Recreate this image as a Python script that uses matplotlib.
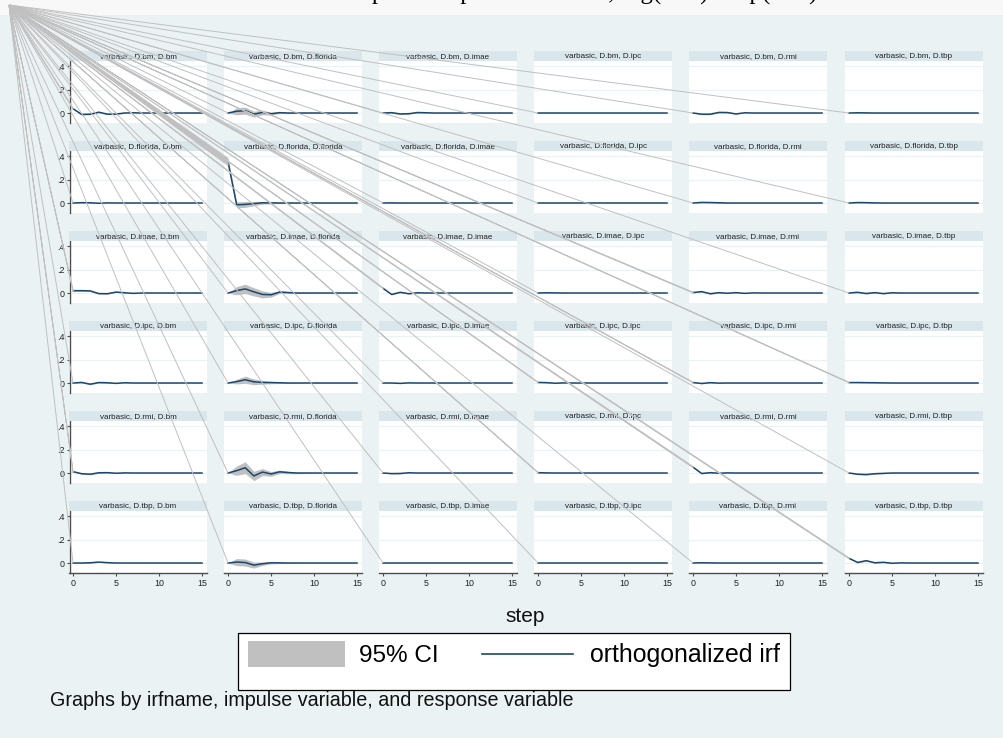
import numpy as np
import matplotlib
matplotlib.use("Agg")
import matplotlib.pyplot as plt
from matplotlib.patches import Rectangle, Polygon

W, H = 1004, 738
DPI = 100

variables = ["bm", "florida", "imae", "ipc", "rmi", "tbp"]
steps = np.arange(16)

# orthogonalized irf, one row per impulse, one list per response (steps 0..15)
irf_bm = [
    [0.037, -0.012, -0.010, 0.007, -0.010, -0.009, 0.000, 0.002, 0, 0, 0, 0, 0, 0, 0, 0],
    [0, 0.015, 0.020, -0.010, 0.005, -0.006, 0.003, 0, 0, 0, 0, 0, 0, 0, 0, 0],
    [0, 0.003, -0.008, -0.006, 0.004, 0.002, 0, 0, 0, 0, 0, 0, 0, 0, 0, 0],
    [0, 0, 0, 0, 0, 0, 0, 0, 0, 0, 0, 0, 0, 0, 0, 0],
    [0, -0.010, -0.010, 0.005, 0.004, -0.008, 0.002, 0, 0, 0, 0, 0, 0, 0, 0, 0],
    [0, 0.002, 0.001, 0, 0, 0, 0, 0, 0, 0, 0, 0, 0, 0, 0, 0],
]
irf_florida = [
    [0, 0.003, 0.002, -0.002, 0.001, 0, 0, 0, 0, 0, 0, 0, 0, 0, 0, 0],
    [0.35, -0.015, -0.012, -0.005, 0.002, 0.001, 0, 0, 0, 0, 0, 0, 0, 0, 0, 0],
    [0, 0.001, 0, 0, 0, 0, 0, 0, 0, 0, 0, 0, 0, 0, 0, 0],
    [0, 0, 0, 0, 0, 0, 0, 0, 0, 0, 0, 0, 0, 0, 0, 0],
    [0, 0.005, 0.004, 0.002, 0, 0, 0, 0, 0, 0, 0, 0, 0, 0, 0, 0],
    [0, 0.004, 0.003, 0.001, 0, 0, 0, 0, 0, 0, 0, 0, 0, 0, 0, 0],
]
irf_imae = [
    [0.020, 0.020, 0.018, -0.005, -0.006, 0.008, 0.002, -0.003, 0, 0, 0, 0, 0, 0, 0, 0],
    [0, 0.020, 0.035, 0.010, -0.012, -0.015, 0.008, 0.004, 0, 0, 0, 0, 0, 0, 0, 0],
    [0.040, -0.012, 0.006, -0.006, 0.002, 0, 0, 0, 0, 0, 0, 0, 0, 0, 0, 0],
    [0, 0.002, 0.001, 0, 0, 0, 0, 0, 0, 0, 0, 0, 0, 0, 0, 0],
    [0.004, 0.012, -0.006, 0.003, -0.002, 0.003, -0.003, 0.001, 0, 0, 0, 0, 0, 0, 0, 0],
    [0, 0.006, -0.004, 0.003, -0.005, 0.002, 0, 0, 0, 0, 0, 0, 0, 0, 0, 0],
]
irf_ipc = [
    [0, 0.005, -0.010, 0.004, 0.002, -0.003, 0.002, 0, 0, 0, 0, 0, 0, 0, 0, 0],
    [0, 0.012, 0.028, 0.010, 0.005, 0.004, 0.002, 0, 0, 0, 0, 0, 0, 0, 0, 0],
    [0, 0, -0.003, 0.001, 0, 0, 0, 0, 0, 0, 0, 0, 0, 0, 0, 0],
    [0.005, 0.003, -0.002, 0.001, 0, 0, 0, 0, 0, 0, 0, 0, 0, 0, 0, 0],
    [0.004, -0.004, 0.003, -0.001, 0, 0, 0, 0, 0, 0, 0, 0, 0, 0, 0, 0],
    [0.004, 0.004, 0.003, 0.002, 0.001, 0, 0, 0, 0, 0, 0, 0, 0, 0, 0, 0],
]
irf_rmi = [
    [0.012, -0.006, -0.010, 0.002, 0.003, -0.002, 0.001, 0, 0, 0, 0, 0, 0, 0, 0, 0],
    [0, 0.020, 0.045, -0.025, 0.008, -0.008, 0.010, 0.004, 0, 0, 0, 0, 0, 0, 0, 0],
    [0, -0.005, -0.004, 0.002, 0, 0, 0, 0, 0, 0, 0, 0, 0, 0, 0, 0],
    [0.003, 0.001, 0, 0, 0, 0, 0, 0, 0, 0, 0, 0, 0, 0, 0, 0],
    [0.050, -0.004, 0.003, -0.002, 0.001, 0, 0, 0, 0, 0, 0, 0, 0, 0, 0, 0],
    [0, -0.010, -0.013, -0.006, -0.003, 0, 0, 0, 0, 0, 0, 0, 0, 0, 0, 0],
]
irf_tbp = [
    [0, 0, 0.002, 0.008, 0.003, 0, 0, 0, 0, 0, 0, 0, 0, 0, 0, 0],
    [0, 0.008, 0.004, -0.018, -0.006, 0.002, 0.001, 0, 0, 0, 0, 0, 0, 0, 0, 0],
    [0, 0, 0, 0, 0, 0, 0, 0, 0, 0, 0, 0, 0, 0, 0, 0],
    [0, 0, 0, 0, 0, 0, 0, 0, 0, 0, 0, 0, 0, 0, 0, 0],
    [0, 0.002, 0.001, 0, 0, 0, 0, 0, 0, 0, 0, 0, 0, 0, 0, 0],
    [0.040, 0.005, 0.020, 0.002, 0.006, -0.002, 0.001, 0, 0, 0, 0, 0, 0, 0, 0, 0],
]

# half-width of the 95% confidence band, same layout
ci_bm = [
    [0.005, 0.006, 0.006, 0.005, 0.004, 0.003, 0.002, 0.001, 0.001, 0, 0, 0, 0, 0, 0, 0],
    [0, 0.030, 0.030, 0.025, 0.020, 0.012, 0.008, 0.005, 0.003, 0.002, 0.001, 0, 0, 0, 0, 0],
    [0, 0.005, 0.005, 0.004, 0.003, 0.002, 0.001, 0, 0, 0, 0, 0, 0, 0, 0, 0],
    [0, 0.002, 0.002, 0.001, 0.001, 0, 0, 0, 0, 0, 0, 0, 0, 0, 0, 0],
    [0, 0.005, 0.005, 0.004, 0.003, 0.002, 0.001, 0, 0, 0, 0, 0, 0, 0, 0, 0],
    [0, 0.002, 0.002, 0.001, 0.001, 0, 0, 0, 0, 0, 0, 0, 0, 0, 0, 0],
]
ci_florida = [
    [0, 0.003, 0.003, 0.002, 0.001, 0, 0, 0, 0, 0, 0, 0, 0, 0, 0, 0],
    [0.030, 0.025, 0.025, 0.018, 0.012, 0.008, 0.005, 0.003, 0.002, 0.001, 0, 0, 0, 0, 0, 0],
    [0, 0.002, 0.002, 0.001, 0, 0, 0, 0, 0, 0, 0, 0, 0, 0, 0, 0],
    [0, 0.001, 0.001, 0, 0, 0, 0, 0, 0, 0, 0, 0, 0, 0, 0, 0],
    [0, 0.004, 0.004, 0.003, 0.002, 0.001, 0, 0, 0, 0, 0, 0, 0, 0, 0, 0],
    [0, 0.004, 0.003, 0.002, 0.001, 0, 0, 0, 0, 0, 0, 0, 0, 0, 0, 0],
]
ci_imae = [
    [0.006, 0.006, 0.006, 0.005, 0.004, 0.003, 0.002, 0.001, 0, 0, 0, 0, 0, 0, 0, 0],
    [0, 0.035, 0.040, 0.035, 0.030, 0.020, 0.012, 0.008, 0.005, 0.003, 0.002, 0.001, 0, 0, 0, 0],
    [0.004, 0.004, 0.004, 0.003, 0.002, 0.001, 0, 0, 0, 0, 0, 0, 0, 0, 0, 0],
    [0, 0.002, 0.002, 0.001, 0, 0, 0, 0, 0, 0, 0, 0, 0, 0, 0, 0],
    [0.003, 0.005, 0.005, 0.004, 0.003, 0.002, 0.001, 0, 0, 0, 0, 0, 0, 0, 0, 0],
    [0, 0.005, 0.005, 0.004, 0.003, 0.002, 0.001, 0, 0, 0, 0, 0, 0, 0, 0, 0],
]
ci_ipc = [
    [0, 0.005, 0.005, 0.004, 0.003, 0.002, 0.001, 0, 0, 0, 0, 0, 0, 0, 0, 0],
    [0, 0.020, 0.030, 0.025, 0.015, 0.010, 0.006, 0.004, 0.002, 0.001, 0, 0, 0, 0, 0, 0],
    [0, 0.002, 0.002, 0.001, 0, 0, 0, 0, 0, 0, 0, 0, 0, 0, 0, 0],
    [0.002, 0.002, 0.002, 0.001, 0, 0, 0, 0, 0, 0, 0, 0, 0, 0, 0, 0],
    [0.002, 0.003, 0.003, 0.002, 0.001, 0, 0, 0, 0, 0, 0, 0, 0, 0, 0, 0],
    [0.002, 0.002, 0.002, 0.001, 0.001, 0, 0, 0, 0, 0, 0, 0, 0, 0, 0, 0],
]
ci_rmi = [
    [0.004, 0.005, 0.005, 0.004, 0.003, 0.002, 0.001, 0, 0, 0, 0, 0, 0, 0, 0, 0],
    [0, 0.040, 0.050, 0.040, 0.030, 0.020, 0.015, 0.010, 0.006, 0.004, 0.002, 0.001, 0, 0, 0, 0],
    [0, 0.003, 0.003, 0.002, 0.001, 0, 0, 0, 0, 0, 0, 0, 0, 0, 0, 0],
    [0.002, 0.002, 0.001, 0, 0, 0, 0, 0, 0, 0, 0, 0, 0, 0, 0, 0],
    [0.005, 0.004, 0.003, 0.002, 0.001, 0, 0, 0, 0, 0, 0, 0, 0, 0, 0, 0],
    [0, 0.005, 0.005, 0.004, 0.003, 0.002, 0.001, 0, 0, 0, 0, 0, 0, 0, 0, 0],
]
ci_tbp = [
    [0, 0.003, 0.003, 0.003, 0.002, 0.001, 0, 0, 0, 0, 0, 0, 0, 0, 0, 0],
    [0, 0.030, 0.030, 0.025, 0.015, 0.010, 0.006, 0.004, 0.002, 0.001, 0, 0, 0, 0, 0, 0],
    [0, 0.001, 0.001, 0, 0, 0, 0, 0, 0, 0, 0, 0, 0, 0, 0, 0],
    [0, 0.001, 0.001, 0, 0, 0, 0, 0, 0, 0, 0, 0, 0, 0, 0, 0],
    [0, 0.002, 0.002, 0.001, 0, 0, 0, 0, 0, 0, 0, 0, 0, 0, 0, 0],
    [0.004, 0.005, 0.005, 0.004, 0.003, 0.002, 0.001, 0, 0, 0, 0, 0, 0, 0, 0, 0],
]

irf_rows = [irf_bm, irf_florida, irf_imae, irf_ipc, irf_rmi, irf_tbp]
ci_rows = [ci_bm, ci_florida, ci_imae, ci_ipc, ci_rmi, ci_tbp]

y_ticks = [0, 0.2, 0.4]
y_ticklabels = ["0", ".2", ".4"]
x_ticks = [0, 5, 10, 15]

title = "Impulse response function, log(IPC) vs. p(IPC)"
note = "Graphs by irfname, impulse variable, and response variable"

# colours
BG = "#EAF2F3"
OUTER = "#F8F8F8"
STRIP = "#D9E6EB"
GRID = "#EAF2F3"
NAVY = "#1A476F"
BAND = "#C0C0C0"
AXIS = "#4D4D4D"

fig = plt.figure(figsize=(W / DPI, H / DPI), dpi=DPI, facecolor=OUTER)


def frac(x0, y0, x1, y1):
    """Pixel box (top-left origin) -> figure-fraction rectangle."""
    return [x0 / W, 1 - y1 / H, (x1 - x0) / W, (y1 - y0) / H]


# graph region
fig.add_artist(Rectangle((0, 0), 1, 1 - 15 / H, transform=fig.transFigure,
                         facecolor=BG, edgecolor="none", zorder=0))

# title sits above the canvas edge, only its descenders reach into view
fig.text(344 / W, 1 + 0.5 / H, title, family="Liberation Serif", fontsize=18,
         ha="left", va="baseline", color="black")

col_left = [69, 224, 379, 534, 689, 845]
row_top = [51, 141, 231, 321, 411, 501]
PW, STRIP_H, PH = 138, 10, 62

axes = {}
for r in range(6):
    for c in range(6):
        x0 = col_left[c]
        y0 = row_top[r]
        # strip title
        fig.add_artist(Rectangle((x0 / W, 1 - (y0 + STRIP_H) / H), PW / W, STRIP_H / H,
                                 transform=fig.transFigure, facecolor=STRIP,
                                 edgecolor="none", zorder=1))
        fig.text((x0 + PW / 2) / W, 1 - (y0 + STRIP_H / 2 + 0.5) / H,
                 f"varbasic, D.{variables[r]}, D.{variables[c]}",
                 ha="center", va="center", fontsize=5.8, color="#222222",
                 family="Liberation Sans", zorder=2)
        ax = fig.add_axes(frac(x0, y0 + STRIP_H, x0 + PW, y0 + STRIP_H + PH))
        ax.set_facecolor("white")
        ax.set_xlim(-0.47, 15.58)
        ax.set_ylim(-0.085, 0.4426)
        for yv in y_ticks:
            ax.axhline(yv, color=GRID, lw=0.9, zorder=0)
        v = np.array(irf_rows[r][c])
        hw = np.array(ci_rows[r][c])
        ax.fill_between(steps, v - hw, v + hw, color=BAND, lw=0, zorder=1)
        ax.plot(steps, v, color=NAVY, lw=1.1, zorder=3)
        for s in ax.spines.values():
            s.set_visible(False)
        ax.set_yticks(y_ticks)
        ax.set_xticks(x_ticks)
        if c == 0:
            ax.spines["left"].set_visible(True)
            ax.spines["left"].set_color(AXIS)
            ax.spines["left"].set_linewidth(1.0)
            ax.spines["left"].set_position(("data", -0.35))
            ax.set_yticklabels(y_ticklabels, fontsize=6.4, color="#222222",
                               family="Liberation Sans")
            ax.tick_params(axis="y", length=2.5, width=0.8, color=AXIS, pad=1.5)
        else:
            ax.tick_params(axis="y", left=False, labelleft=False)
        if r == 5:
            ax.spines["bottom"].set_visible(True)
            ax.spines["bottom"].set_color(AXIS)
            ax.spines["bottom"].set_linewidth(1.0)
            ax.set_xticklabels([str(t) for t in x_ticks], fontsize=6.4,
                               color="#222222", family="Liberation Sans")
            ax.tick_params(axis="x", length=2.5, width=0.8, color=AXIS, pad=2)
        else:
            ax.tick_params(axis="x", bottom=False, labelbottom=False)
        axes[(r, c)] = ax

# the band outlines are anchored at a single point near the top-left corner
fig.canvas.draw()
to_fig = fig.transFigure.inverted()
apex = (9 / W, 1 - 5 / H)
for (r, c), ax in axes.items():
    v0 = irf_rows[r][c][0]
    h0 = ci_rows[r][c][0]
    lo = to_fig.transform(ax.transData.transform((0, v0 - h0)))
    hi = to_fig.transform(ax.transData.transform((0, v0 + h0)))
    fig.add_artist(Polygon([apex, tuple(lo), tuple(hi)], closed=True,
                           transform=fig.transFigure, facecolor=BAND,
                           edgecolor=BAND, lw=0.7, zorder=5))

# axis title
fig.text(525 / W, 1 - 617 / H, "step", ha="center", va="center", fontsize=15,
         family="Liberation Sans", color="#111111")

# legend
fig.add_artist(Rectangle((238 / W, 1 - 690 / H), (790 - 238) / W, (690 - 633) / H,
                         transform=fig.transFigure, facecolor="white",
                         edgecolor="black", lw=0.9, zorder=2))
fig.add_artist(Rectangle((248 / W, 1 - 667 / H), (345 - 248) / W, (667 - 641) / H,
                         transform=fig.transFigure, facecolor=BAND,
                         edgecolor="none", zorder=3))
fig.text(359 / W, 1 - 662 / H, "95% CI", ha="left", va="baseline", fontsize=17.5,
         family="Liberation Sans", zorder=3)
fig.add_artist(plt.Line2D([482 / W, 573 / W], [1 - 654 / H, 1 - 654 / H],
                          transform=fig.transFigure, color=NAVY, lw=1.2, zorder=3))
fig.text(590 / W, 1 - 662 / H, "orthogonalized irf", ha="left", va="baseline",
         fontsize=17.9, family="Liberation Sans", zorder=3)

fig.text(50 / W, 1 - 700 / H, note, ha="left", va="center", fontsize=14.2,
         family="Liberation Sans", color="#111111")

fig.savefig("out.png", dpi=DPI, facecolor=OUTER)
